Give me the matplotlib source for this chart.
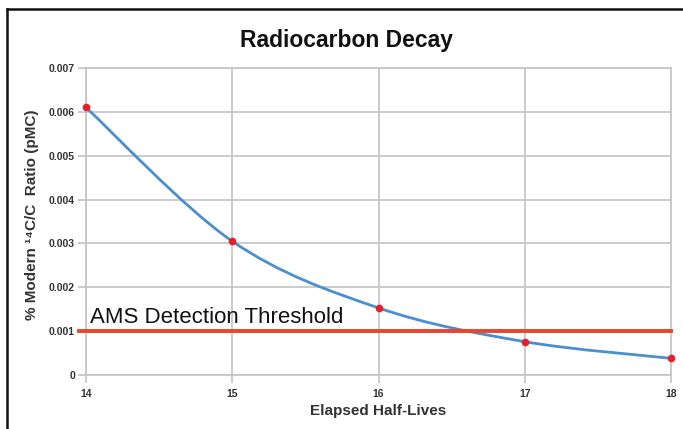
import matplotlib
matplotlib.use("Agg")
import matplotlib.pyplot as plt
from matplotlib.path import Path
from matplotlib.patches import PathPatch
from matplotlib.lines import Line2D
import numpy as np

half_lives = [14, 15, 16, 17, 18]
pmc = [0.0061, 0.00305, 0.00153, 0.00076, 0.00038]
threshold = 0.001
y_ticks = [0, 0.001, 0.002, 0.003, 0.004, 0.005, 0.006, 0.007]
y_tick_labels = ["0", "0.001", "0.002", "0.003", "0.004", "0.005", "0.006", "0.007"]
title = "Radiocarbon Decay"
x_label = "Elapsed Half-Lives"
y_label = "% Modern \u00b9\u2074C/C  Ratio (pMC)"
threshold_label = "AMS Detection Threshold"

FAM = ["Liberation Sans", "DejaVu Sans"]
plt.rcParams['font.family'] = FAM

fig = plt.figure(figsize=(6.83, 4.29), dpi=100)
fig.patch.set_facecolor("white")
ax = fig.add_axes([86/683, 1-375/429, 585/683, 307/429])

grid_c = "#c4c4c4"
ax.set_xlim(14, 18)
ax.set_ylim(0, 0.007)
ax.set_xticks(half_lives)
ax.set_xticklabels([str(v) for v in half_lives])
ax.set_yticks(y_ticks)
ax.set_yticklabels(y_tick_labels)
ax.grid(True, color=grid_c, linewidth=1.2)
ax.set_axisbelow(True)
for s in ax.spines.values():
    s.set_color(grid_c)
    s.set_linewidth(1.2)
ax.tick_params(axis='both', colors=grid_c, length=6, width=1.2,
               labelcolor="#333333", labelsize=7.5)
for lab in ax.get_xticklabels() + ax.get_yticklabels():
    lab.set_fontweight("bold")
ax.tick_params(axis='y', pad=2)
ax.tick_params(axis='x', pad=4)

# smooth curve (Catmull-Rom -> cubic Bezier) through the data points
xs = np.array(half_lives, dtype=float)
ys = np.array(pmc, dtype=float)
verts = [(xs[0], ys[0])]
codes = [Path.MOVETO]
n = len(xs)
for i in range(n - 1):
    p0 = (xs[max(i-1, 0)], ys[max(i-1, 0)])
    p1 = (xs[i], ys[i])
    p2 = (xs[i+1], ys[i+1])
    p3 = (xs[min(i+2, n-1)], ys[min(i+2, n-1)])
    c1 = (p1[0] + (p2[0]-p0[0])/6, p1[1] + (p2[1]-p0[1])/6)
    c2 = (p2[0] - (p3[0]-p1[0])/6, p2[1] - (p3[1]-p1[1])/6)
    verts += [c1, c2, p2]
    codes += [Path.CURVE4]*3
ax.add_patch(PathPatch(Path(verts, codes), facecolor='none',
                       edgecolor="#4a8fcf", linewidth=2.0, zorder=3))

ax.plot(half_lives, pmc, linestyle='none', marker='o', markersize=5.5,
        color="#e5202a", markeredgewidth=0, zorder=5, clip_on=False)

# threshold line
ax.add_line(Line2D([-0.012, 1.0], [threshold, threshold],
                   transform=ax.get_yaxis_transform(), color="#e8452c",
                   linewidth=2.8, zorder=4, clip_on=False))
ax.text(14.03, threshold + 0.00019, threshold_label, fontsize=16,
        color="#111111", ha='left', va='baseline', zorder=6)

ax.set_xlabel(x_label, fontsize=11, fontweight='bold', color="#333333")
ax.xaxis.set_label_coords(0.5, -(411-375)/307, transform=ax.transAxes)
ax.xaxis.label.set_va('center')
ax.set_ylabel(y_label, fontsize=11, fontweight='bold', color="#333333")
ax.yaxis.set_label_coords(-(86-32)/585, (375-215)/307, transform=ax.transAxes)
ax.yaxis.label.set_va('center')
fig.text(346/683, 1-47/429, title, fontsize=16.5, fontweight='bold',
         color="#111111", ha='center', va='baseline')

# outer frame (top and left edges)
fig.add_artist(Line2D([7/683, 1.0], [1-9/429, 1-9/429], transform=fig.transFigure,
                      color="#111111", linewidth=1.8))
fig.add_artist(Line2D([7/683, 7/683], [0, 1-9/429], transform=fig.transFigure,
                      color="#111111", linewidth=1.8))

fig.savefig("out.png", dpi=100, facecolor="white")
